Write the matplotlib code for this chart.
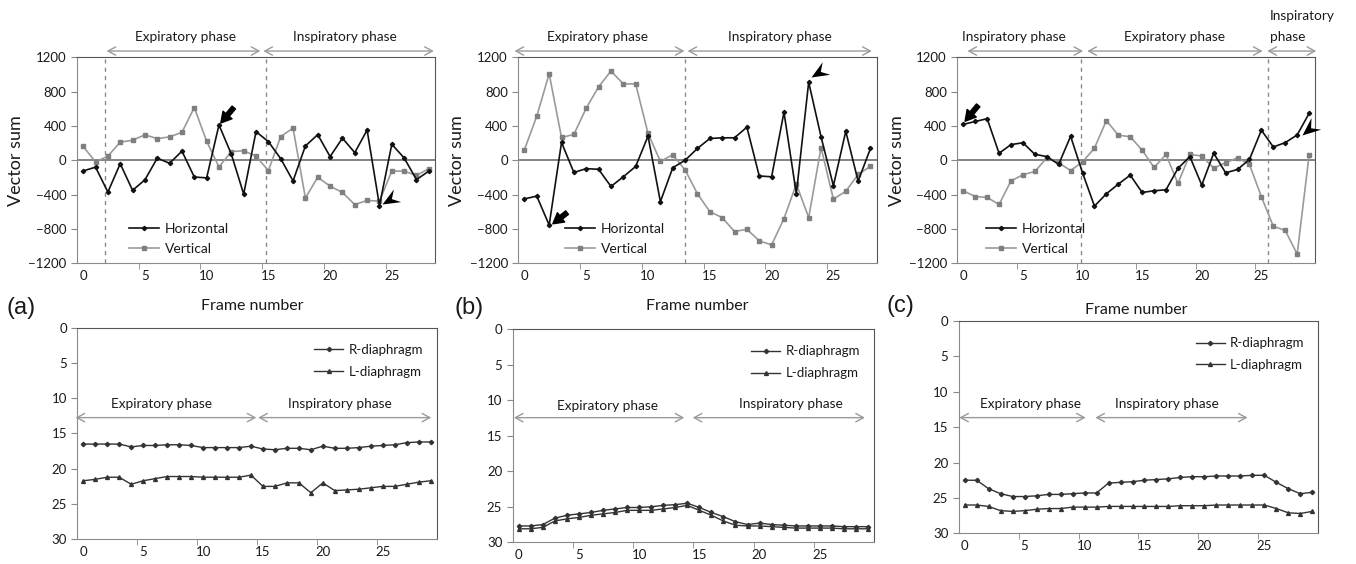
import matplotlib
matplotlib.use("Agg")
import matplotlib.pyplot as plt
from matplotlib.path import Path
from matplotlib.transforms import Affine2D

plt.rcParams['font.family'] = ['Lato', 'DejaVu Sans']

# ---- data ----
# top row: vector sums (frame 0..28 for a and b, 0..29 for c)
a_horiz = [-124, -80, -370, -40, -350, -228, 25, -35, 107, -195, -205, 412, 72, -394, 334,
           218, 19, -241, 167, 299, 43, 258, 89, 352, -528, 187, 27, -225, -126]
a_vert = [161, -19, 48, 212, 233, 297, 252, 273, 326, 615, 223, -78, 101, 111, 48,
          -120, 276, 376, -439, -198, -301, -375, -516, -468, -476, -126, -126, -177, -97]

b_horiz = [-450, -417, -755, 208, -142, -97, -105, -305, -192, -72, 282, -482, -87, 0, 138,
           254, 262, 262, 386, -183, -192, 560, -390, 910, 274, -297, 338, -243, 138]
b_vert = [124, 515, 1008, 266, 301, 608, 856, 1040, 890, 890, 313, -12, 64, -112, -390,
          -598, -668, -830, -804, -938, -986, -680, -276, -668, 148, -452, -361, -165, -70]

c_horiz = [419, 452, 485, 82, 183, 204, 70, 43, -47, 280, -146, -534, -390, -278, -173,
           -375, -355, -344, -95, 43, -289, 83, -146, -107, 10, 351, 155, 206, 295, 546]
c_vert = [-355, -423, -433, -515, -240, -169, -130, 27, -30, -119, -19, 142, 463, 293, 274,
          118, -84, 68, -270, 68, 50, -91, -29, 29, -49, -425, -769, -818, -1093, 58]

# bottom row: diaphragm positions (frame 0..29)
a_rdia = [16.5, 16.5, 16.5, 16.5, 16.9, 16.7, 16.7, 16.6, 16.6, 16.7, 17.0, 17.0, 17.0, 17.0, 16.8,
          17.2, 17.3, 17.1, 17.1, 17.3, 16.8, 17.1, 17.1, 17.0, 16.8, 16.7, 16.6, 16.3, 16.2, 16.2]
a_ldia = [21.7, 21.5, 21.2, 21.2, 22.2, 21.7, 21.4, 21.1, 21.1, 21.1, 21.2, 21.2, 21.2, 21.2, 20.9,
          22.5, 22.5, 22.0, 22.0, 23.4, 22.0, 23.1, 23.0, 22.9, 22.7, 22.5, 22.5, 22.2, 21.9, 21.7]

b_rdia = [27.7, 27.7, 27.5, 26.6, 26.2, 26.0, 25.8, 25.5, 25.3, 25.1, 25.1, 25.0, 24.8, 24.7, 24.5,
          25.1, 25.8, 26.4, 27.1, 27.5, 27.3, 27.5, 27.6, 27.7, 27.7, 27.7, 27.7, 27.8, 27.8, 27.8]
b_ldia = [28.1, 28.1, 27.9, 27.0, 26.7, 26.5, 26.2, 26.0, 25.8, 25.5, 25.5, 25.5, 25.3, 25.1, 24.8,
          25.5, 26.2, 27.0, 27.6, 27.7, 27.7, 27.8, 27.9, 28.0, 28.0, 28.0, 28.0, 28.1, 28.1, 28.1]

c_rdia = [22.5, 22.5, 23.7, 24.4, 24.8, 24.8, 24.7, 24.5, 24.5, 24.4, 24.3, 24.3, 22.9, 22.8, 22.7,
          22.5, 22.4, 22.3, 22.1, 22.0, 22.0, 21.9, 21.9, 21.9, 21.8, 21.8, 22.8, 23.7, 24.4, 24.2]
c_ldia = [26.0, 26.0, 26.2, 26.8, 26.9, 26.8, 26.6, 26.5, 26.5, 26.3, 26.3, 26.3, 26.2, 26.2, 26.2,
          26.2, 26.2, 26.2, 26.1, 26.1, 26.1, 26.0, 26.0, 26.0, 26.0, 26.0, 26.5, 27.1, 27.2, 26.9]

TXT = '#1a1a1a'
ARR = '#9a9a9a'
FS_PHASE = 9.8

fig = plt.figure(figsize=(13.56, 5.64), dpi=100)

top_pos = [[0.0568, 0.5332, 0.2640, 0.3652],
           [0.3822, 0.5332, 0.2643, 0.3652],
           [0.7060, 0.5332, 0.2638, 0.3652]]
bot_pos = [[0.0570, 0.0438, 0.2650, 0.3752],
           [0.3781, 0.0385, 0.2664, 0.3777],
           [0.7070, 0.0544, 0.2652, 0.3764]]


def style_axes(ax, n):
    ax.set_xlim(-0.5, n - 0.5)
    ax.set_xticks(range(0, n - 3, 5))
    ax.set_xticks([x + 4.5 for x in range(0, n - 5, 5)], minor=True)
    ax.tick_params(axis='x', which='major', length=0, labelsize=9.5, labelcolor=TXT, pad=5)
    ax.tick_params(axis='x', which='minor', length=4, direction='out', color='#888888')
    ax.tick_params(axis='y', length=4, direction='out', color='#888888', labelsize=9.5,
                   labelcolor=TXT)
    for s in ['left', 'bottom']:
        ax.spines[s].set_color('#8a8a8a')
    for s in ['top', 'right']:
        ax.spines[s].set_color('#555555')


def phase_arrow(ax, x0, x1, y):
    ax.annotate('', xy=(x1, y), xytext=(x0, y), annotation_clip=False,
                arrowprops=dict(arrowstyle='<->,head_length=0.55,head_width=0.3',
                                color=ARR, lw=1, shrinkA=0, shrinkB=0))


def big_arrow(ax, tip, tail):
    ax.annotate('', xy=tip, xytext=tail,
                arrowprops=dict(arrowstyle='simple,head_width=0.85,head_length=0.75,tail_width=0.32',
                                color='black', shrinkA=0, shrinkB=0, mutation_scale=10))


def chevron(ax, tip, angle):
    # arrowhead with a notched back, tip at origin, pointing left, then rotated
    verts = [(0, 0), (1, 0.42), (0.62, 0), (1, -0.42), (0, 0)]
    p = Path(verts, [Path.MOVETO, Path.LINETO, Path.LINETO, Path.LINETO, Path.CLOSEPOLY])
    p = p.transformed(Affine2D().rotate_deg(angle))
    ax.plot([tip[0]], [tip[1]], marker=p, ms=27, color='black', mec='black', mew=0,
            clip_on=False, zorder=6)


def top_panel(ax, horiz, vert, dashes, leg_x):
    n = len(horiz)
    x = list(range(n))
    ax.axhline(0, color='#7a7a7a', lw=1.3, zorder=1)
    for d in dashes:
        ax.axvline(d, color='#8a8a8a', lw=1, ls=(0, (3, 3)), zorder=1)
    ax.plot(x, horiz, color='#111111', lw=1.2, marker='D', ms=2.2, label='Horizontal', zorder=4)
    ax.plot(x, vert, color='#9a9a9a', lw=1.2, marker='s', ms=2.8, mfc='#7f7f7f', mec='#7f7f7f',
            label='Vertical', zorder=3)
    ax.set_ylim(-1200, 1200)
    ax.set_yticks(range(-1200, 1201, 400))
    style_axes(ax, n)
    ax.set_ylabel('Vector sum', fontsize=13, color=TXT, labelpad=3)
    ax.legend(loc='lower left', bbox_to_anchor=(leg_x, -0.02), frameon=False, fontsize=10,
              handlelength=2.2, labelspacing=0.6, handletextpad=0.4,
              labelcolor=TXT)


def bottom_panel(ax, rdia, ldia):
    n = len(rdia)
    x = list(range(n))
    ax.plot(x, rdia, color='#333333', lw=1, marker='D', ms=2.2, label='R-diaphragm')
    ax.plot(x, ldia, color='#333333', lw=1, marker='^', ms=2.8, label='L-diaphragm')
    ax.set_ylim(30, 0)
    ax.set_yticks(range(0, 31, 5))
    style_axes(ax, n)
    ax.legend(loc='upper right', bbox_to_anchor=(0.995, 0.98), frameon=False, fontsize=9.5,
              handlelength=2.2, labelspacing=0.75, handletextpad=0.4, labelcolor=TXT)


axs_top = [fig.add_axes(p) for p in top_pos]
axs_bot = [fig.add_axes(p) for p in bot_pos]

# ---- top row ----
top_panel(axs_top[0], a_horiz, a_vert, [1.8, 14.8], 0.11)
top_panel(axs_top[1], b_horiz, b_vert, [13.0], 0.095)
top_panel(axs_top[2], c_horiz, c_vert, [9.9, 25.55], 0.045)

ax = axs_top[0]
phase_arrow(ax, 1.9, 14.35, 1273)
phase_arrow(ax, 14.6, 28.4, 1273)
ax.text(8.3, 1433, 'Expiratory phase', ha='center', va='center', fontsize=FS_PHASE, color=TXT)
ax.text(21.2, 1433, 'Inspiratory phase', ha='center', va='center', fontsize=FS_PHASE, color=TXT)
big_arrow(ax, (11.15, 435), (12.2, 615))
chevron(ax, (24.2, -505), 30)

ax = axs_top[1]
phase_arrow(ax, -0.8, 12.95, 1273)
phase_arrow(ax, 13.2, 28.1, 1273)
ax.text(5.9, 1433, 'Expiratory phase', ha='center', va='center', fontsize=FS_PHASE, color=TXT)
ax.text(20.7, 1433, 'Inspiratory phase', ha='center', va='center', fontsize=FS_PHASE, color=TXT)
big_arrow(ax, (2.3, -740), (3.45, -610))
chevron(ax, (23.2, 975), 31)

ax = axs_top[2]
phase_arrow(ax, 0.35, 10.05, 1273)
phase_arrow(ax, 10.4, 25.1, 1273)
phase_arrow(ax, 25.5, 29.6, 1273)
ax.text(4.2, 1433, 'Inspiratory phase', ha='center', va='center', fontsize=FS_PHASE, color=TXT)
ax.text(17.7, 1433, 'Expiratory phase', ha='center', va='center', fontsize=FS_PHASE, color=TXT)
ax.text(25.7, 1681, 'Inspiratory', ha='left', va='center', fontsize=FS_PHASE, color=TXT)
ax.text(25.7, 1440, 'phase', ha='left', va='center', fontsize=FS_PHASE, color=TXT)
big_arrow(ax, (0.15, 455), (1.25, 640))
chevron(ax, (28.4, 300), 40)

# ---- bottom row ----
for ax, r, l in zip(axs_bot, [a_rdia, b_rdia, c_rdia], [a_ldia, b_ldia, c_ldia]):
    bottom_panel(ax, r, l)

ax = axs_bot[0]
phase_arrow(ax, -0.65, 14.45, 12.75)
phase_arrow(ax, 14.6, 29.05, 12.75)
ax.text(6.5, 10.8, 'Expiratory phase', ha='center', va='center', fontsize=FS_PHASE, color=TXT)
ax.text(21.4, 10.8, 'Inspiratory phase', ha='center', va='center', fontsize=FS_PHASE, color=TXT)

ax = axs_bot[1]
phase_arrow(ax, -0.4, 13.75, 12.45)
phase_arrow(ax, 14.45, 28.75, 12.45)
ax.text(7.4, 10.8, 'Expiratory phase', ha='center', va='center', fontsize=FS_PHASE, color=TXT)
ax.text(22.6, 10.5, 'Inspiratory phase', ha='center', va='center', fontsize=FS_PHASE, color=TXT)

ax = axs_bot[2]
phase_arrow(ax, -0.45, 10.1, 13.65)
phase_arrow(ax, 10.9, 23.6, 13.65)
ax.text(5.5, 11.7, 'Expiratory phase', ha='center', va='center', fontsize=FS_PHASE, color=TXT)
ax.text(16.9, 11.7, 'Inspiratory phase', ha='center', va='center', fontsize=FS_PHASE, color=TXT)

# ---- figure-level labels ----
for xc, yc in [(0.1862, 1 - 306 / 564), (0.5143, 1 - 306 / 564), (0.8380, 1 - 310 / 564)]:
    fig.text(xc, yc, 'Frame number', ha='center', va='center', fontsize=11.5, color=TXT)

for xl, yl, s in [(6 / 1356, 1 - 308 / 564, '(a)'), (455 / 1356, 1 - 308 / 564, '(b)'),
                  (887 / 1356, 1 - 306 / 564, '(c)')]:
    fig.text(xl, yl, s, ha='left', va='center', fontsize=17, color=TXT,
             family=['Liberation Sans', 'DejaVu Sans'])

fig.savefig('out.png', dpi=100, facecolor='white')
